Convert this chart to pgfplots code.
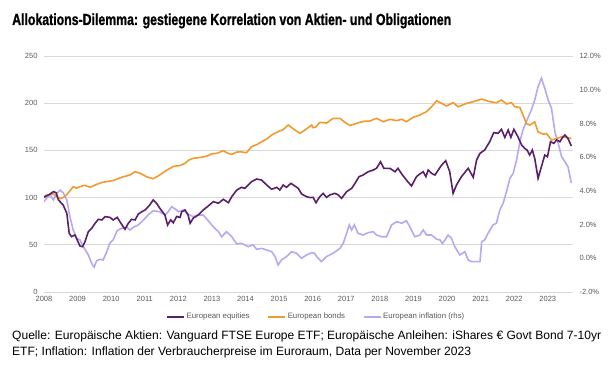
\documentclass[border=0pt]{standalone}
\usepackage{fontspec}
\setmainfont{Liberation Sans}
\newfontfamily\titlefont[FakeBold=1.2]{Liberation Sans Bold}
\usepackage{pgfplots}
\pgfplotsset{compat=1.18}
\usepackage{graphicx}
\definecolor{eqc}{HTML}{5B1F6A}
\definecolor{bdc}{HTML}{F29A2E}
\definecolor{infc}{HTML}{B3AAF2}
\definecolor{gridc}{HTML}{D9D9D9}
\definecolor{tickc}{HTML}{595959}
\newlength\tw
\newcommand\titletext{\titlefont\fontsize{16}{18}\selectfont Allokations-Dilemma: gestiegene Korrelation von Aktien- und Obligationen}
\newcommand\footA{Quelle: Europäische Aktien: Vanguard FTSE Europe ETF; Europäische Anleihen: iShares € Govt Bond 7-10yr}
\newcommand\footB{ETF; Inflation: Inflation der Verbraucherpreise im Euroraum, Data per November 2023}
\pgfplotsset{
  common/.style={
    at={(44pt,89pt)}, anchor=south west, scale only axis,
    width=529pt, height=236pt, xmin=2008, xmax=2023.75,
    axis line style={draw=none}, major tick length=0pt,
    tick label style={font=\fontsize{7.5}{9}\selectfont, text=tickc},
    /pgf/number format/assume math mode=true,
    /pgf/number format/1000 sep={},
  }
}
\begin{document}%
\settowidth\tw{\titletext}%
\pgfmathsetmacro\sx{439/\tw}%
\settowidth\tw{\fontsize{10}{12}\selectfont\footA}%
\pgfmathsetmacro\fs{10*589/\tw}%
\begin{tikzpicture}[x=1pt,y=1pt]
\useasboundingbox (0,0) rectangle (614,381);
\node[anchor=base west, inner sep=0] at (12,356) {\scalebox{\sx}[1]{\titletext}};
\node[anchor=base west, inner sep=0] at (12,42) {\fontsize{\fs}{\fs}\selectfont\footA};
\node[anchor=base west, inner sep=0] at (12,26) {\fontsize{\fs}{\fs}\selectfont\footB};

% right axis: inflation
\begin{axis}[common,
  ymin=-2, ymax=12, ytick={-2,0,2,4,6,8,10,12},
  xtick=\empty,
  yticklabel pos=right,
  yticklabel={\pgfmathprintnumber[fixed,fixed zerofill,precision=1]{\tick}\%},
  yticklabel style={xshift=3pt},
  extra y ticks={-2,0.8,3.6,6.4,9.2,12},
  extra y tick labels={},
  extra y tick style={grid=major},
  major grid style={gridc, line width=0.8pt},
]
\addplot[infc, line width=1.6pt] table {
2008.00 3.36
2008.08 3.56
2008.18 3.75
2008.28 3.46
2008.38 3.85
2008.48 4.05
2008.57 3.89
2008.68 3.46
2008.77 2.47
2008.87 1.68
2008.97 1.19
2009.07 1.09
2009.17 0.69
2009.32 0.20
2009.42 -0.30
2009.49 -0.53
2009.57 -0.14
2009.67 -0.06
2009.76 -0.10
2009.87 0.39
2009.96 0.89
2010.06 1.09
2010.18 1.64
2010.31 1.78
2010.46 1.84
2010.56 1.68
2010.66 1.84
2010.81 1.98
2010.96 2.27
2011.10 2.57
2011.25 2.82
2011.45 2.76
2011.60 2.57
2011.70 2.76
2011.80 3.06
2011.95 2.86
2012.00 2.76
2012.15 2.86
2012.29 2.63
2012.44 2.47
2012.59 2.57
2012.74 2.57
2012.89 2.23
2013.04 1.87
2013.19 1.58
2013.29 1.28
2013.44 1.58
2013.59 1.28
2013.74 0.85
2013.88 0.89
2014.08 0.69
2014.23 0.79
2014.33 0.53
2014.48 0.59
2014.63 0.49
2014.78 0.39
2014.88 0.10
2014.97 -0.40
2015.07 -0.10
2015.22 0.10
2015.37 0.39
2015.52 0.30
2015.67 0.00
2015.82 0.20
2015.97 0.33
2016.05 0.30
2016.12 0.10
2016.26 -0.20
2016.41 0.10
2016.61 0.30
2016.81 0.59
2016.91 0.89
2017.01 1.48
2017.09 1.98
2017.16 1.68
2017.24 1.98
2017.35 1.48
2017.50 1.38
2017.65 1.52
2017.80 1.58
2017.90 1.38
2018.05 1.28
2018.20 1.28
2018.35 1.98
2018.50 2.17
2018.65 2.08
2018.79 2.23
2018.89 1.87
2019.04 1.28
2019.19 1.38
2019.29 1.68
2019.39 1.38
2019.54 1.38
2019.69 1.13
2019.79 1.09
2019.86 0.87
2019.94 1.09
2020.03 1.38
2020.13 1.19
2020.23 0.69
2020.38 0.20
2020.53 0.39
2020.63 -0.10
2020.73 -0.20
2020.88 -0.20
2020.98 -0.20
2021.03 0.98
2021.12 1.09
2021.22 1.48
2021.37 1.98
2021.47 2.08
2021.57 2.86
2021.67 3.26
2021.77 3.95
2021.87 4.74
2021.97 5.04
2022.07 5.83
2022.17 6.92
2022.26 7.61
2022.36 8.10
2022.51 8.80
2022.61 9.39
2022.71 10.18
2022.81 10.68
2022.91 10.08
2023.01 9.39
2023.11 8.90
2023.21 7.51
2023.31 6.82
2023.41 6.03
2023.51 5.73
2023.60 5.43
2023.70 4.47
};
\end{axis}

% left axis: equities and bonds
\begin{axis}[common,
  ymin=0, ymax=250, ytick={0,50,100,150,200,250},
  xtick={2008,2009,...,2023},
  yticklabel style={xshift=-3pt},
  xticklabel style={yshift=-1pt},
  legend columns=3,
  legend style={at={(0.514,-0.105)}, anchor=center, draw=none, fill=none,
    font=\fontsize{7.8}{9}\selectfont, text=tickc,
    /tikz/every even column/.append style={column sep=16pt},
    nodes={inner sep=1.5pt}},
  legend image code/.code={\draw[#1, line width=2.2pt] (0pt,0pt) -- (17pt,0pt);},
]
\addplot[bdc, line width=1.6pt, forget plot] table {
2008.00 100
2008.03 102
2008.15 103
2008.28 104
2008.38 101
2008.48 99
2008.57 100
2008.67 103
2008.77 107
2008.87 111.5
2008.97 110
2009.07 111.5
2009.20 113
2009.37 111
2009.57 114
2009.72 116
2009.87 117
2010.06 118
2010.20 120
2010.36 122
2010.56 124
2010.71 127.4
2010.86 125.8
2011.06 122
2011.25 120
2011.45 124
2011.65 129
2011.85 133
2012.05 134
2012.20 136.3
2012.32 140
2012.44 141.6
2012.69 142.7
2012.85 144
2012.99 146.2
2013.15 147
2013.34 149.7
2013.47 147
2013.59 145.8
2013.72 148
2013.83 148.6
2014.03 147.6
2014.18 154
2014.33 156
2014.48 159.2
2014.63 162
2014.78 166.3
2014.97 169.8
2015.12 172
2015.27 176.9
2015.47 171.6
2015.62 168.1
2015.77 171.6
2015.97 176.9
2016.01 174
2016.10 175
2016.21 179.7
2016.41 179
2016.61 184
2016.81 184
2016.96 179.7
2017.11 176.3
2017.25 178
2017.40 179.7
2017.55 181
2017.70 181.1
2017.90 184
2018.10 180.4
2018.30 182.9
2018.50 181.5
2018.65 183
2018.79 180.4
2018.99 185
2019.19 187.5
2019.39 191
2019.54 196.2
2019.69 202.6
2019.84 199.8
2019.98 197
2020.18 200.5
2020.33 196.2
2020.58 199.8
2020.78 201.6
2021.03 204.4
2021.15 203
2021.27 201.6
2021.47 200.5
2021.62 203.4
2021.77 199.2
2021.92 200.5
2022.02 196.2
2022.17 195.5
2022.26 187.4
2022.36 178.5
2022.46 176.7
2022.61 180.2
2022.71 169.6
2022.86 167.2
2022.96 167.9
2023.11 161
2023.26 162.6
2023.41 164.3
2023.56 163.6
2023.70 162.6
};
\addplot[eqc, line width=1.6pt, forget plot] table {
2008.00 100
2008.03 101
2008.18 103.8
2008.28 106.3
2008.36 105.2
2008.43 97.5
2008.57 92.2
2008.68 83.3
2008.75 62.1
2008.82 58.6
2008.92 60.4
2008.99 55.1
2009.07 48.7
2009.15 48.0
2009.22 53.3
2009.32 63.9
2009.42 67.5
2009.52 72.8
2009.62 77.0
2009.72 76.3
2009.82 79.8
2009.96 79.1
2010.06 76.3
2010.18 79.1
2010.26 74.5
2010.41 66.4
2010.51 72.8
2010.61 77.0
2010.71 76.3
2010.81 82.6
2010.91 85.0
2011.01 86.9
2011.15 92.2
2011.25 97.5
2011.35 94.0
2011.45 88.7
2011.60 81.6
2011.68 71.0
2011.77 76.3
2011.85 73.4
2011.95 80.0
2012.05 79.0
2012.10 85.0
2012.20 86.9
2012.29 81.6
2012.35 72.8
2012.44 78.1
2012.59 81.6
2012.74 86.9
2012.89 91.1
2013.04 95.7
2013.19 94.0
2013.34 98.2
2013.49 94.6
2013.59 101
2013.74 108
2013.88 110.9
2013.98 109.8
2014.08 113.3
2014.18 116.8
2014.33 119.7
2014.48 118.6
2014.63 113.3
2014.78 108.8
2014.93 110.9
2015.02 108
2015.12 113.3
2015.22 110.9
2015.35 115.1
2015.47 112.3
2015.57 109.8
2015.67 103.8
2015.82 101
2015.92 100
2016.01 100.3
2016.10 94.6
2016.21 101
2016.31 104.5
2016.41 100.3
2016.51 102.8
2016.66 104.5
2016.76 102.8
2016.86 99.2
2017.01 106.3
2017.16 109.8
2017.26 115.1
2017.38 122.2
2017.50 123.9
2017.65 127.4
2017.80 129.2
2017.90 131
2018.02 138
2018.12 131
2018.30 131
2018.45 127.4
2018.54 131
2018.65 125
2018.79 118.6
2018.94 112.3
2019.09 122.2
2019.19 125
2019.29 127.4
2019.37 122.2
2019.44 129.2
2019.54 125.7
2019.64 123.9
2019.74 129.2
2019.84 134.5
2019.96 139.1
2020.08 127.4
2020.18 104.5
2020.28 113.3
2020.43 122.2
2020.63 131
2020.78 121.5
2020.88 139.8
2020.98 146.9
2021.12 150.4
2021.27 159.2
2021.39 168.8
2021.52 168.1
2021.62 172.3
2021.72 163.8
2021.82 171.6
2021.90 163.8
2021.99 172.3
2022.11 164.5
2022.22 155.7
2022.31 152.2
2022.38 150.4
2022.46 145.1
2022.54 150.4
2022.61 141.6
2022.71 120.4
2022.81 132.8
2022.91 145.1
2022.99 143.3
2023.08 159.2
2023.18 157.5
2023.26 161
2023.36 159.2
2023.44 163.8
2023.51 166.3
2023.60 162.6
2023.70 154.7
};
\addlegendimage{eqc}
\addlegendentry{European equities}
\addlegendimage{bdc}
\addlegendentry{European bonds}
\addlegendimage{infc}
\addlegendentry{European inflation (rhs)}
\end{axis}
\end{tikzpicture}%
\end{document}
